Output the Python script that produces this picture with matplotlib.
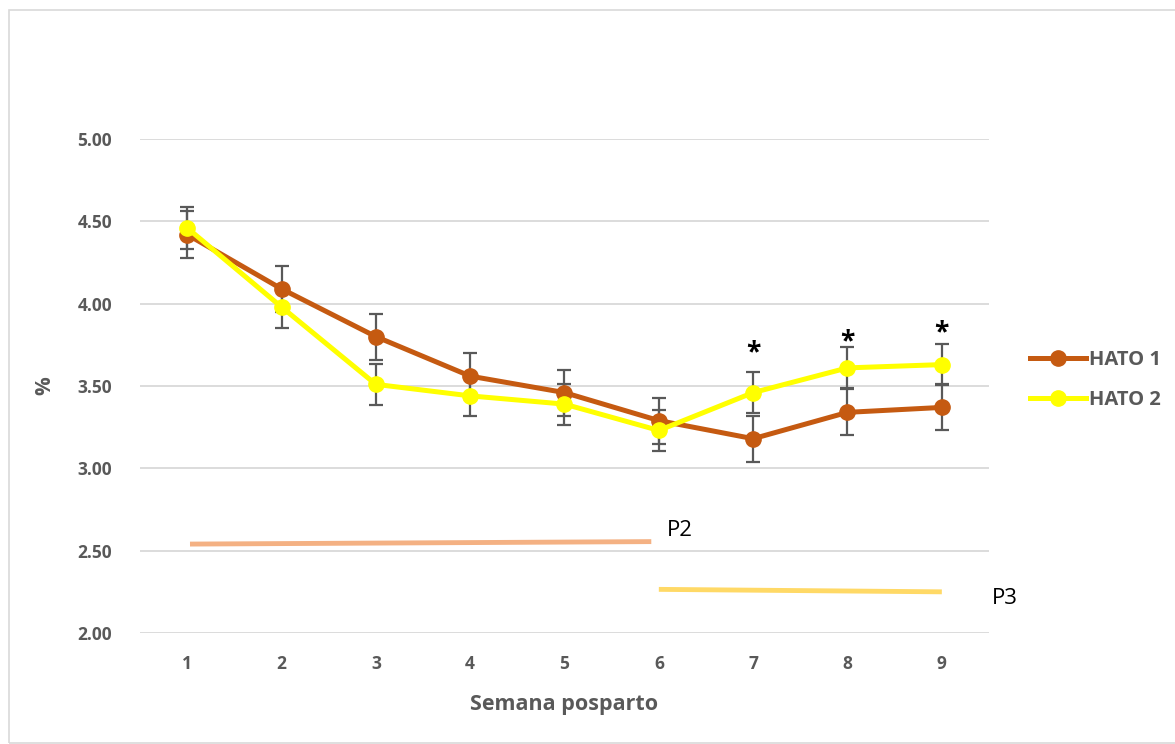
import matplotlib
matplotlib.use("Agg")
import matplotlib.pyplot as plt
from matplotlib.lines import Line2D
from matplotlib.patches import Rectangle

weeks = [1, 2, 3, 4, 5, 6, 7, 8, 9]
hato1 = [4.42, 4.09, 3.80, 3.56, 3.46, 3.29, 3.18, 3.34, 3.37]
hato2 = [4.46, 3.98, 3.51, 3.44, 3.39, 3.23, 3.46, 3.61, 3.63]
err1 = [0.14, 0.14, 0.14, 0.14, 0.14, 0.14, 0.14, 0.14, 0.14]
err2 = [0.125, 0.125, 0.125, 0.125, 0.125, 0.125, 0.125, 0.125, 0.125]
star_weeks = [7, 8, 9]
star_vals = [3.70, 3.77, 3.82]
p2_x = [1.03, 5.92]
p2_y = [2.54, 2.555]
p3_x = [6.0, 9.0]
p3_y = [2.265, 2.25]
yticks = [2.00, 2.50, 3.00, 3.50, 4.00, 4.50, 5.00]

plt.rcParams['font.family'] = ['Open Sans', 'DejaVu Sans']

W, H = 1175, 744
fig = plt.figure(figsize=(W / 100, H / 100), dpi=100)
ax = fig.add_axes([140 / W, (H - 633) / H, (989 - 140) / W, (633 - 139) / H])

c1 = '#C55A11'
c2 = '#FFFF00'
grey = '#595959'

ax.errorbar(weeks, hato1, yerr=err1, fmt='none', ecolor=grey, elinewidth=1.6,
            capsize=5, capthick=1.6, zorder=2)
ax.errorbar(weeks, hato2, yerr=err2, fmt='none', ecolor=grey, elinewidth=1.6,
            capsize=5, capthick=1.6, zorder=2)
ax.plot(weeks, hato1, color=c1, lw=3.6, marker='o', ms=11, zorder=3)
ax.plot(weeks, hato2, color=c2, lw=3.6, marker='o', ms=11, zorder=4)

for w, v in zip(star_weeks, star_vals):
    ax.text(w, v, '*', ha='center', va='center', fontsize=19, fontweight='bold', color='black')

ax.plot(p2_x, p2_y, color='#F4B183', lw=3.5, solid_capstyle='butt', clip_on=False, zorder=1)
ax.plot(p3_x, p3_y, color='#FFD966', lw=3.5, solid_capstyle='butt', clip_on=False, zorder=1)
ax.text(6.08, 2.62, 'P2', fontsize=16, color='black', va='center', ha='left')
ax.text(9.53, 2.21, 'P3', fontsize=16, color='black', va='center', ha='left', clip_on=False)

ax.set_xlim(0.5, 9.5)
ax.set_ylim(2.0, 5.0)
ax.set_xticks(weeks)
ax.set_xticklabels([str(w) for w in weeks])
ax.set_yticks(yticks)
ax.set_yticklabels([f'{v:.2f}' for v in yticks])
ax.tick_params(length=0, labelsize=12.5, labelcolor=grey, pad=20)
ax.tick_params(axis='x', pad=16)
for lab in ax.get_xticklabels() + ax.get_yticklabels():
    lab.set_fontweight('bold')
ax.grid(axis='y', color='#D9D9D9', lw=1.3)
ax.set_axisbelow(True)
for s in ax.spines.values():
    s.set_visible(False)

ax.set_xlabel('Semana posparto', fontsize=15.5, fontweight='bold', color=grey, labelpad=15)
ax.set_ylabel('%', fontsize=15, fontweight='bold', color=grey, labelpad=16)

handles = [Line2D([], [], color=c1, lw=3.6, marker='o', ms=11),
           Line2D([], [], color=c2, lw=3.6, marker='o', ms=11)]
leg = fig.legend(handles, ['HATO 1', 'HATO 2'], loc='center left',
                 bbox_to_anchor=(1022 / W, 1 - 380 / H), frameon=False,
                 prop={'size': 14.5, 'weight': 'bold'}, handlelength=2.8,
                 handletextpad=0.15, labelspacing=1.0, borderaxespad=0)
for t in leg.get_texts():
    t.set_color(grey)

fig.patches.append(Rectangle((9 / W, 1 / H), 1.2, 1 - 11 / H, transform=fig.transFigure,
                             fill=False, edgecolor='#D9D9D9', lw=1.2))

fig.savefig('out.png', dpi=100)
